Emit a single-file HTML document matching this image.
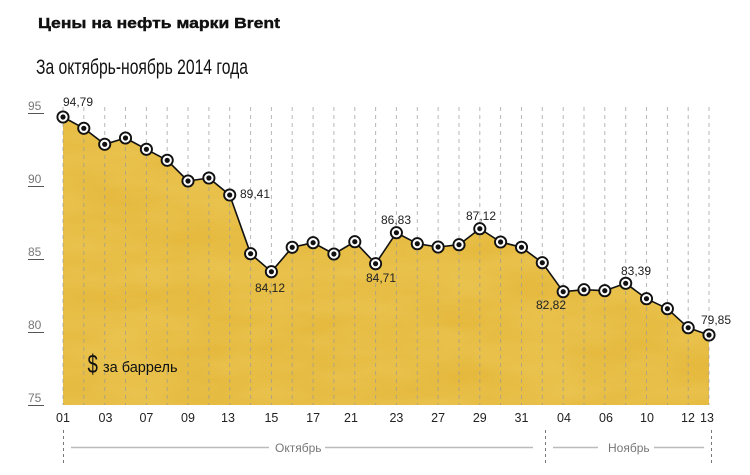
<!DOCTYPE html>
<html><head><meta charset="utf-8"><style>
html,body{margin:0;padding:0;background:#fff;}
svg{display:block;}
text{font-family:"Liberation Sans","DejaVu Sans",sans-serif;}
</style></head><body>
<svg width="750" height="475" viewBox="0 0 750 475" xmlns="http://www.w3.org/2000/svg">
<defs>
<filter id="tex" x="0" y="0" width="100%" height="100%">
<feTurbulence type="fractalNoise" baseFrequency="0.012 0.035" numOctaves="3" seed="4" result="n"/>
<feColorMatrix in="n" type="matrix" values="0 0 0 0 0.94  0 0 0 0 0.77  0 0 0 0 0.25  0 0 0 0.35 -0.02" result="c"/>
<feComposite in="c" in2="SourceGraphic" operator="in"/>
</filter>
<clipPath id="cl"><polygon points="63,117 83.8,128.3 104.7,144.3 125.5,138 146.4,149.3 167.2,160.3 188,181 208.9,178 229.7,195 250.6,253.7 271.4,271.7 292.2,247.3 313.1,242.7 333.9,254 354.8,241.7 375.6,263.7 396.4,232.7 417.3,243.7 438.1,247 459,244.7 479.8,228.7 500.6,242 521.5,247.3 542.3,262.7 563.2,291.7 584,289.7 604.8,290.7 625.7,283.3 646.5,298.7 667.4,308.7 688.2,327.7 709,335 709,405 63,405"/></clipPath>
</defs>
<text x="38" y="28" font-size="15" font-weight="bold" fill="#111" stroke="#111" stroke-width="0.4" textLength="242" lengthAdjust="spacingAndGlyphs">Цены на нефть марки Brent</text>
<text x="36" y="74" font-size="21" fill="#111" textLength="212" lengthAdjust="spacingAndGlyphs">За октябрь-ноябрь 2014 года</text>

<!-- fill -->
<g clip-path="url(#cl)">
<rect x="63" y="100" width="646" height="305" fill="#e4b73a"/>
<rect x="63" y="100" width="646" height="305" fill="#e4b73a" filter="url(#tex)"/>
</g>

<!-- gridlines -->
<g stroke="#9a9a9a" stroke-opacity="0.7" stroke-width="1" stroke-dasharray="4 4">
<line x1="63" y1="107" x2="63" y2="405"/><line x1="83.8" y1="107" x2="83.8" y2="405"/><line x1="104.7" y1="107" x2="104.7" y2="405"/><line x1="125.5" y1="107" x2="125.5" y2="405"/><line x1="146.4" y1="107" x2="146.4" y2="405"/><line x1="167.2" y1="107" x2="167.2" y2="405"/><line x1="188" y1="107" x2="188" y2="405"/><line x1="208.9" y1="107" x2="208.9" y2="405"/><line x1="229.7" y1="107" x2="229.7" y2="405"/><line x1="250.6" y1="107" x2="250.6" y2="405"/><line x1="271.4" y1="107" x2="271.4" y2="405"/><line x1="292.2" y1="107" x2="292.2" y2="405"/><line x1="313.1" y1="107" x2="313.1" y2="405"/><line x1="333.9" y1="107" x2="333.9" y2="405"/><line x1="354.8" y1="107" x2="354.8" y2="405"/><line x1="375.6" y1="107" x2="375.6" y2="405"/><line x1="396.4" y1="107" x2="396.4" y2="405"/><line x1="417.3" y1="107" x2="417.3" y2="405"/><line x1="438.1" y1="107" x2="438.1" y2="405"/><line x1="459" y1="107" x2="459" y2="405"/><line x1="479.8" y1="107" x2="479.8" y2="405"/><line x1="500.6" y1="107" x2="500.6" y2="405"/><line x1="521.5" y1="107" x2="521.5" y2="405"/><line x1="542.3" y1="107" x2="542.3" y2="405"/><line x1="563.2" y1="107" x2="563.2" y2="405"/><line x1="584" y1="107" x2="584" y2="405"/><line x1="604.8" y1="107" x2="604.8" y2="405"/><line x1="625.7" y1="107" x2="625.7" y2="405"/><line x1="646.5" y1="107" x2="646.5" y2="405"/><line x1="667.4" y1="107" x2="667.4" y2="405"/><line x1="688.2" y1="107" x2="688.2" y2="405"/><line x1="709" y1="107" x2="709" y2="405"/>
</g>

<!-- y axis labels -->
<g font-size="12" fill="#777">
<text x="28" y="110">95</text>
<text x="28" y="183">90</text>
<text x="28" y="256">85</text>
<text x="28" y="329">80</text>
<text x="28" y="402">75</text>
</g>
<g stroke="#555" stroke-width="1">
<line x1="28" y1="113.5" x2="44" y2="113.5"/>
<line x1="28" y1="186.5" x2="44" y2="186.5"/>
<line x1="28" y1="259.5" x2="44" y2="259.5"/>
<line x1="28" y1="332.5" x2="44" y2="332.5"/>
<line x1="28" y1="405.5" x2="44" y2="405.5"/>
</g>

<!-- line -->
<polyline fill="none" stroke="#111" stroke-width="1.6" stroke-linejoin="round" points="63,117 83.8,128.3 104.7,144.3 125.5,138 146.4,149.3 167.2,160.3 188,181 208.9,178 229.7,195 250.6,253.7 271.4,271.7 292.2,247.3 313.1,242.7 333.9,254 354.8,241.7 375.6,263.7 396.4,232.7 417.3,243.7 438.1,247 459,244.7 479.8,228.7 500.6,242 521.5,247.3 542.3,262.7 563.2,291.7 584,289.7 604.8,290.7 625.7,283.3 646.5,298.7 667.4,308.7 688.2,327.7 709,335"/>

<!-- markers -->
<g fill="#fff" stroke="#111" stroke-width="1.9">
<circle cx="63" cy="117" r="5.6"/><circle cx="83.8" cy="128.3" r="5.6"/><circle cx="104.7" cy="144.3" r="5.6"/><circle cx="125.5" cy="138" r="5.6"/><circle cx="146.4" cy="149.3" r="5.6"/><circle cx="167.2" cy="160.3" r="5.6"/><circle cx="188" cy="181" r="5.6"/><circle cx="208.9" cy="178" r="5.6"/><circle cx="229.7" cy="195" r="5.6"/><circle cx="250.6" cy="253.7" r="5.6"/><circle cx="271.4" cy="271.7" r="5.6"/><circle cx="292.2" cy="247.3" r="5.6"/><circle cx="313.1" cy="242.7" r="5.6"/><circle cx="333.9" cy="254" r="5.6"/><circle cx="354.8" cy="241.7" r="5.6"/><circle cx="375.6" cy="263.7" r="5.6"/><circle cx="396.4" cy="232.7" r="5.6"/><circle cx="417.3" cy="243.7" r="5.6"/><circle cx="438.1" cy="247" r="5.6"/><circle cx="459" cy="244.7" r="5.6"/><circle cx="479.8" cy="228.7" r="5.6"/><circle cx="500.6" cy="242" r="5.6"/><circle cx="521.5" cy="247.3" r="5.6"/><circle cx="542.3" cy="262.7" r="5.6"/><circle cx="563.2" cy="291.7" r="5.6"/><circle cx="584" cy="289.7" r="5.6"/><circle cx="604.8" cy="290.7" r="5.6"/><circle cx="625.7" cy="283.3" r="5.6"/><circle cx="646.5" cy="298.7" r="5.6"/><circle cx="667.4" cy="308.7" r="5.6"/><circle cx="688.2" cy="327.7" r="5.6"/><circle cx="709" cy="335" r="5.6"/>
</g>
<g fill="#111">
<circle cx="63" cy="117" r="2.6"/><circle cx="83.8" cy="128.3" r="2.6"/><circle cx="104.7" cy="144.3" r="2.6"/><circle cx="125.5" cy="138" r="2.6"/><circle cx="146.4" cy="149.3" r="2.6"/><circle cx="167.2" cy="160.3" r="2.6"/><circle cx="188" cy="181" r="2.6"/><circle cx="208.9" cy="178" r="2.6"/><circle cx="229.7" cy="195" r="2.6"/><circle cx="250.6" cy="253.7" r="2.6"/><circle cx="271.4" cy="271.7" r="2.6"/><circle cx="292.2" cy="247.3" r="2.6"/><circle cx="313.1" cy="242.7" r="2.6"/><circle cx="333.9" cy="254" r="2.6"/><circle cx="354.8" cy="241.7" r="2.6"/><circle cx="375.6" cy="263.7" r="2.6"/><circle cx="396.4" cy="232.7" r="2.6"/><circle cx="417.3" cy="243.7" r="2.6"/><circle cx="438.1" cy="247" r="2.6"/><circle cx="459" cy="244.7" r="2.6"/><circle cx="479.8" cy="228.7" r="2.6"/><circle cx="500.6" cy="242" r="2.6"/><circle cx="521.5" cy="247.3" r="2.6"/><circle cx="542.3" cy="262.7" r="2.6"/><circle cx="563.2" cy="291.7" r="2.6"/><circle cx="584" cy="289.7" r="2.6"/><circle cx="604.8" cy="290.7" r="2.6"/><circle cx="625.7" cy="283.3" r="2.6"/><circle cx="646.5" cy="298.7" r="2.6"/><circle cx="667.4" cy="308.7" r="2.6"/><circle cx="688.2" cy="327.7" r="2.6"/><circle cx="709" cy="335" r="2.6"/>
</g>

<!-- value labels -->
<g font-size="12" fill="#222">
<text x="63" y="106">94,79</text>
<text x="240" y="198">89,41</text>
<text x="255" y="292">84,12</text>
<text x="366" y="282">84,71</text>
<text x="381" y="224">86,83</text>
<text x="466" y="220">87,12</text>
<text x="536" y="309">82,82</text>
<text x="621" y="275">83,39</text>
<text x="701" y="324">79,85</text>
</g>

<!-- $ за баррель -->
<text x="0" y="0" font-size="26" fill="#111" transform="translate(87.5 373) scale(0.72 1)">$</text>
<text x="103" y="372" font-size="14.5" fill="#111">за баррель</text>

<!-- x tick labels -->
<g font-size="12.5" fill="#222" text-anchor="middle">
<text x="63" y="422">01</text>
<text x="105.5" y="422">03</text>
<text x="146.4" y="422">07</text>
<text x="188" y="422">09</text>
<text x="228" y="422">13</text>
<text x="271.4" y="422">15</text>
<text x="313.1" y="422">17</text>
<text x="351" y="422">21</text>
<text x="396.4" y="422">23</text>
<text x="438.1" y="422">27</text>
<text x="479.8" y="422">29</text>
<text x="521.5" y="422">31</text>
<text x="564" y="422">04</text>
<text x="606" y="422">06</text>
<text x="647" y="422">10</text>
<text x="688" y="422">12</text>
<text x="707" y="422">13</text>
</g>

<!-- months -->
<g stroke="#777" stroke-width="1" stroke-dasharray="3 3">
<line x1="63.5" y1="430" x2="63.5" y2="463"/>
<line x1="545.5" y1="430" x2="545.5" y2="463"/>
<line x1="711.5" y1="430" x2="711.5" y2="463"/>
</g>
<g stroke="#bbb" stroke-width="1.5">
<line x1="71" y1="447.5" x2="269" y2="447.5"/>
<line x1="325" y1="447.5" x2="533" y2="447.5"/>
<line x1="553" y1="447.5" x2="598" y2="447.5"/>
<line x1="654" y1="447.5" x2="704" y2="447.5"/>
</g>
<g font-size="12" fill="#777">
<text x="275" y="452">Октябрь</text>
<text x="608" y="452">Ноябрь</text>
</g>
</svg>
</body></html>
